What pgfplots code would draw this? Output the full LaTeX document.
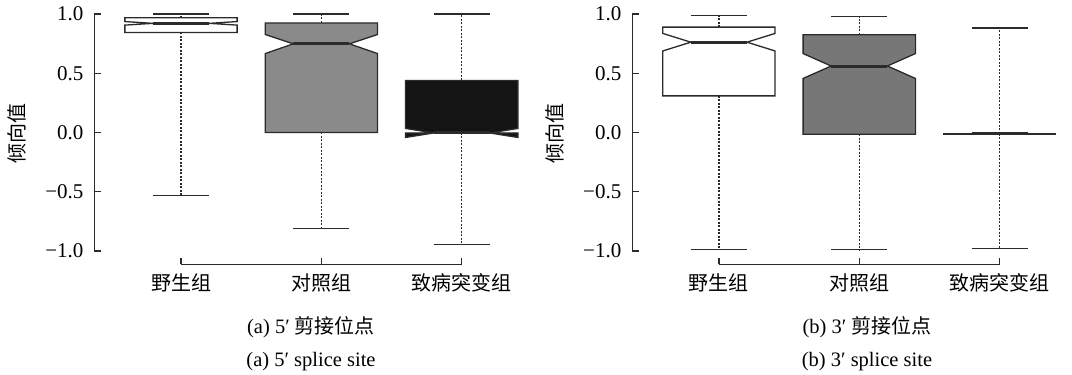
\documentclass[border=0pt]{standalone}
\usepackage{fontspec}
\usepackage{pgfplots}
\pgfplotsset{compat=1.18}
\setmainfont{Liberation Serif}
\newfontfamily\cjk{Noto Sans CJK SC}
\definecolor{ln}{HTML}{2B2B2B}
\definecolor{boxA}{HTML}{8A8A8A}
\definecolor{boxB}{HTML}{777777}
\definecolor{boxC}{HTML}{141414}
\pgfplotsset{
  rbox/.style={
    scale only axis, width=437.5pt, height=259.9pt,
    xmin=0.383, xmax=3.5, ymin=-1.113, ymax=1.08,
    axis x line*=bottom, axis y line*=left, axis line style={draw=none},
    tick align=inside, major tick length=6.5pt, tick style={ln, line width=1.2pt},
    xtick={1,2,3}, xticklabels={野生组,对照组,致病突变组},
    ytick={-1,-0.5,0,0.5,1}, yticklabels={−1.0,−0.5,0.0,0.5,1.0},
    yticklabel style={font=\fontsize{21}{24}\selectfont, xshift=-7.5pt},
    xticklabel style={font=\cjk\fontsize{20}{24}\selectfont, yshift=-6pt},
    ylabel={倾向值},
    ylabel style={font=\cjk\fontsize{20}{24}\selectfont, at={(axis description cs:-0.177,0.505)}, anchor=center},
    clip=false,
  },
  whisk/.style={ln, line width=1.2pt, dash pattern=on 2pt off 1.5pt},
  cap/.style={ln, line width=1.3pt},
  bx/.style={draw=ln, line width=1.3pt},
  med/.style={ln, line width=3pt},
}
\begin{document}
\begin{tikzpicture}
\useasboundingbox (0,0) rectangle (1072pt,375pt);
\fill[white] (0,0) rectangle (1072pt,375pt);
% ---------------- (a) 5' splice site
\begin{axis}[rbox, at={(94.4pt,110.6pt)}, anchor=south west]
\draw[ln, line width=1.3pt] (axis cs:0.383,-1) -- (axis cs:0.383,1);
\draw[ln, line width=1.3pt] (axis cs:1,-1.113) -- (axis cs:3,-1.113);
% box 1
\addplot[whisk] coordinates {(1,0.969) (1,1.0)};
\addplot[whisk] coordinates {(1,0.844) (1,-0.533)};
\addplot[cap] coordinates {(0.8,1.0) (1.2,1.0)};
\addplot[cap] coordinates {(0.8,-0.533) (1.2,-0.533)};
\addplot[bx, fill=white] coordinates {(0.6,0.844) (0.6,0.906) (0.8,0.921) (0.6,0.936) (0.6,0.969) (1.4,0.969) (1.4,0.936) (1.2,0.921) (1.4,0.906) (1.4,0.844)} --cycle;
\addplot[med] coordinates {(0.8,0.921) (1.2,0.921)};
% box 2
\addplot[whisk] coordinates {(2,0.924) (2,1.0)};
\addplot[whisk] coordinates {(2,0.0) (2,-0.81)};
\addplot[cap] coordinates {(1.8,1.0) (2.2,1.0)};
\addplot[cap] coordinates {(1.8,-0.81) (2.2,-0.81)};
\addplot[bx, fill=boxA] coordinates {(1.6,0.0) (1.6,0.666) (1.8,0.748) (1.6,0.827) (1.6,0.924) (2.4,0.924) (2.4,0.827) (2.2,0.748) (2.4,0.666) (2.4,0.0)} --cycle;
\addplot[med] coordinates {(1.8,0.748) (2.2,0.748)};
% box 3
\addplot[whisk] coordinates {(3,0.439) (3,1.0)};
\addplot[whisk] coordinates {(3,-0.004) (3,-0.943)};
\addplot[cap] coordinates {(2.8,1.0) (3.2,1.0)};
\addplot[cap] coordinates {(2.8,-0.943) (3.2,-0.943)};
\addplot[bx, fill=boxC] coordinates {(2.6,-0.004) (2.6,-0.042) (2.8,-0.004) (2.6,0.034) (2.6,0.439) (3.4,0.439) (3.4,0.034) (3.2,-0.004) (3.4,-0.042) (3.4,-0.004)} --cycle;
\addplot[med] coordinates {(2.8,-0.004) (3.2,-0.004)};
\end{axis}
% ---------------- (b) 3' splice site
\begin{axis}[rbox, at={(632.3pt,110.6pt)}, anchor=south west]
\draw[ln, line width=1.3pt] (axis cs:0.383,-1) -- (axis cs:0.383,1);
\draw[ln, line width=1.3pt] (axis cs:1,-1.113) -- (axis cs:3,-1.113);
% box 1
\addplot[whisk] coordinates {(1,0.889) (1,0.99)};
\addplot[whisk] coordinates {(1,0.309) (1,-0.986)};
\addplot[cap] coordinates {(0.8,0.99) (1.2,0.99)};
\addplot[cap] coordinates {(0.8,-0.986) (1.2,-0.986)};
\addplot[bx, fill=white] coordinates {(0.6,0.309) (0.6,0.688) (0.8,0.762) (0.6,0.836) (0.6,0.889) (1.4,0.889) (1.4,0.836) (1.2,0.762) (1.4,0.688) (1.4,0.309)} --cycle;
\addplot[med] coordinates {(0.8,0.762) (1.2,0.762)};
% box 2
\addplot[whisk] coordinates {(2,0.824) (2,0.977)};
\addplot[whisk] coordinates {(2,-0.014) (2,-0.99)};
\addplot[cap] coordinates {(1.8,0.977) (2.2,0.977)};
\addplot[cap] coordinates {(1.8,-0.99) (2.2,-0.99)};
\addplot[bx, fill=boxB] coordinates {(1.6,-0.014) (1.6,0.456) (1.8,0.561) (1.6,0.666) (1.6,0.824) (2.4,0.824) (2.4,0.666) (2.2,0.561) (2.4,0.456) (2.4,-0.014)} --cycle;
\addplot[med] coordinates {(1.8,0.561) (2.2,0.561)};
% box 3 (degenerate)
\addplot[whisk] coordinates {(3,-0.01) (3,0.881)};
\addplot[whisk] coordinates {(3,-0.01) (3,-0.98)};
\addplot[cap] coordinates {(2.8,0.881) (3.2,0.881)};
\addplot[cap] coordinates {(2.8,-0.98) (3.2,-0.98)};
\addplot[cap] coordinates {(2.8,-0.005) (3.2,-0.005)};
\addplot[ln, line width=2pt] coordinates {(2.6,-0.012) (3.4,-0.012)};
\end{axis}
% captions
\node[font=\fontsize{20.5}{24}\selectfont] at (311pt,48pt) {(a) 5′ {\cjk\fontsize{20}{24}\selectfont 剪接位点}};
\node[font=\fontsize{20.5}{24}\selectfont] at (311pt,13pt) {(a) 5′ splice site};
\node[font=\fontsize{20.5}{24}\selectfont] at (867pt,48pt) {(b) 3′ {\cjk\fontsize{20}{24}\selectfont 剪接位点}};
\node[font=\fontsize{20.5}{24}\selectfont] at (867pt,13pt) {(b) 3′ splice site};
\end{tikzpicture}
\end{document}
